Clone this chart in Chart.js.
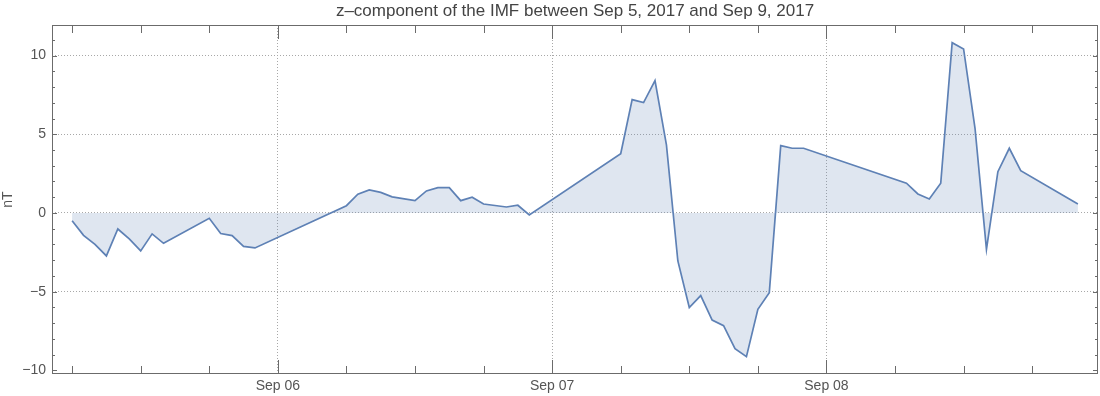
<!DOCTYPE html>
<html>
<head>
<meta charset="utf-8">
<script src="https://cdn.jsdelivr.net/npm/chart.js@4"></script>
<style>
  html, body { margin: 0; padding: 0; background: #fff; }
  #wrap { width: 1100px; height: 396px; }
</style>
</head>
<body>
<div id="wrap"><canvas id="chart" width="1100" height="396"></canvas></div>
<script>
// hours counted from Sep 5, 2017 00:00
const hours = [6, 7, 8, 9, 10, 11, 12, 13, 14, 18, 19, 20, 21, 22,
  30, 31, 32, 33, 34, 36, 37, 38, 39, 40, 41, 42, 44, 45, 46,
  54, 55, 56, 57, 58, 59, 60, 61, 62, 63, 64, 65, 66, 67, 68, 69, 70,
  79, 80, 81, 82, 83, 84, 85, 86, 87, 88, 89, 94];
const bz = [-0.49, -1.42, -1.99, -2.73, -1.02, -1.65, -2.41, -1.33, -1.93, -0.34, -1.31, -1.44, -2.12, -2.22,
  0.46, 1.19, 1.46, 1.31, 1.02, 0.78, 1.40, 1.61, 1.61, 0.78, 1.00, 0.57, 0.38, 0.49, -0.13,
  3.77, 7.20, 7.01, 8.41, 4.32, -3.05, -6.01, -5.25, -6.80, -7.16, -8.62, -9.13, -6.12, -5.06, 4.28, 4.11, 4.11,
  1.89, 1.21, 0.89, 1.89, 10.82, 10.42, 5.38, -2.31, 2.62, 4.11, 2.69, 0.57];
const dayTicks = [24, 48, 72];
const dayLabels = ["Sep 06", "Sep 07", "Sep 08"];
const yTicks = [-10, -5, 0, 5, 10];
const titleText = "z\u2013component of the IMF between Sep 5, 2017 and Sep 9, 2017";

const points = hours.map((h, i) => ({ x: h, y: bz[i] }));
const blue = "#5e81b5";
const axisGray = "#6b6b6b";
const font = "Liberation Sans, Arial, sans-serif";

// frame with inward ticks, and the title centred over the plot
const framePlugin = {
  id: "frame",
  afterDraw(chart) {
    const { ctx, chartArea: a, scales } = chart;
    ctx.save();
    ctx.strokeStyle = axisGray;
    ctx.lineWidth = 1;
    ctx.strokeRect(a.left + 0.5, a.top + 0.5, a.right - a.left - 1, a.bottom - a.top - 1);
    ctx.beginPath();
    for (let h = 6; h <= 90; h += 6) {
      const px = Math.round(scales.x.getPixelForValue(h)) + 0.5;
      const len = h % 24 === 0 ? 14 : 8;
      ctx.moveTo(px, a.bottom); ctx.lineTo(px, a.bottom - len);
      ctx.moveTo(px, a.top); ctx.lineTo(px, a.top + len);
    }
    for (let v = -10; v <= 11; v++) {
      const py = Math.round(scales.y.getPixelForValue(v)) + 0.5;
      const len = v % 5 === 0 ? 5 : 3;
      ctx.moveTo(a.left, py); ctx.lineTo(a.left + len, py);
      ctx.moveTo(a.right, py); ctx.lineTo(a.right - len, py);
    }
    ctx.stroke();

    ctx.fillStyle = "#444";
    ctx.font = "17px " + font;
    ctx.textAlign = "center";
    ctx.textBaseline = "alphabetic";
    ctx.fillText(titleText, (a.left + a.right) / 2, 16);
    ctx.restore();
  }
};

new Chart(document.getElementById("chart"), {
  type: "line",
  data: {
    datasets: [{
      data: points,
      borderColor: blue,
      borderWidth: 1.7,
      backgroundColor: "rgba(94,129,181,0.2)",
      fill: "origin",
      pointRadius: 0,
      tension: 0
    }]
  },
  options: {
    responsive: false,
    animation: false,
    layout: { padding: { top: 25, right: 2, bottom: 0, left: 0 } },
    plugins: {
      legend: { display: false },
      tooltip: { enabled: false },
      title: { display: false }
    },
    scales: {
      x: {
        type: "linear",
        min: 6 - 1.76,
        max: 94 + 1.76,
        afterBuildTicks(scale) { scale.ticks = dayTicks.map(v => ({ value: v })); },
        afterFit(scale) { scale.height = 22; },
        ticks: {
          color: "#555",
          font: { family: font, size: 14 },
          padding: 4,
          maxRotation: 0,
          callback: (v) => dayLabels[dayTicks.indexOf(v)]
        },
        grid: { color: "#a8a8a8", drawTicks: false, lineWidth: 1 },
        border: { display: false, dash: [1, 2] }
      },
      y: {
        min: -10.23,
        max: 11.94,
        afterBuildTicks(scale) { scale.ticks = yTicks.map(v => ({ value: v })); },
        afterFit(scale) { scale.width = 52; },
        title: {
          display: true,
          text: "nT",
          color: "#555",
          font: { family: font, size: 14 },
          padding: { top: 0, bottom: 6 }
        },
        ticks: {
          color: "#555",
          font: { family: font, size: 14 },
          padding: 6,
          callback: (v) => (v < 0 ? "\u2212" + Math.abs(v) : String(v))
        },
        grid: {
          color: (c) => (c.tick && c.tick.value === -10 ? "rgba(0,0,0,0)" : "#a8a8a8"),
          drawTicks: false,
          lineWidth: 1
        },
        border: { display: false, dash: [1, 2] }
      }
    }
  },
  plugins: [framePlugin]
});
</script>
</body>
</html>
